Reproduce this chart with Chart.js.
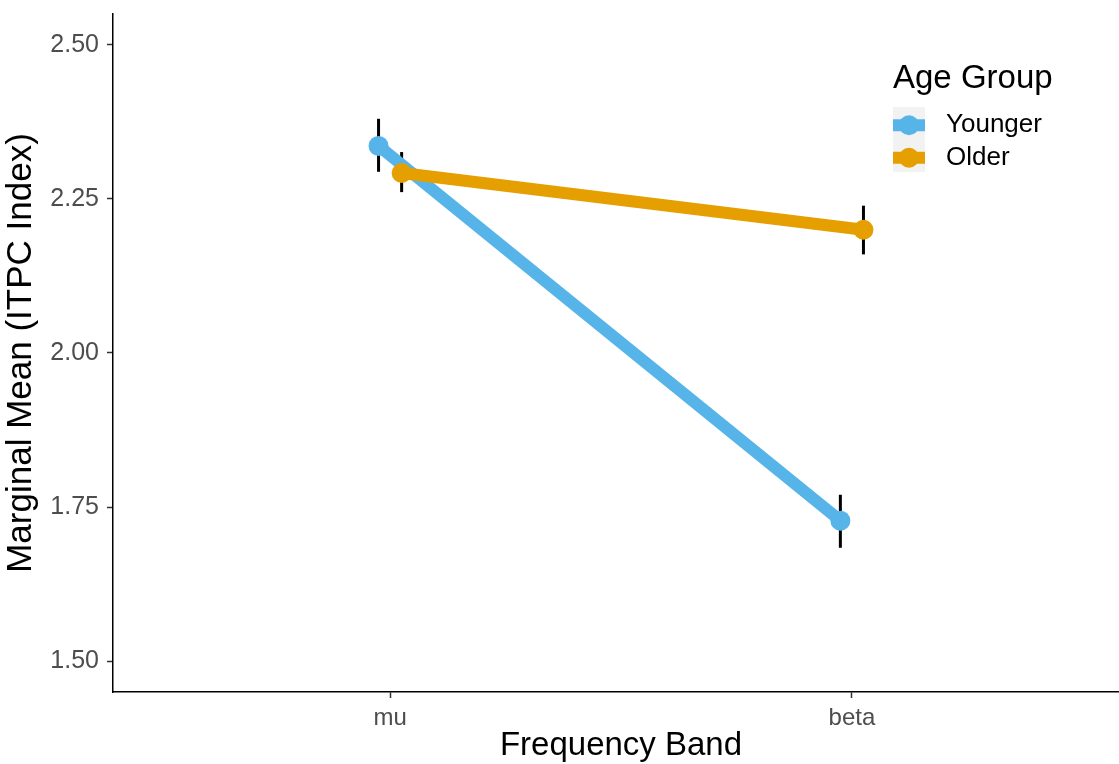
<!DOCTYPE html>
<html>
<head>
<meta charset="utf-8">
<script src="https://cdn.jsdelivr.net/npm/chart.js@4/dist/chart.umd.min.js"></script>
<style>
  html, body { margin: 0; padding: 0; background: #fff; overflow: hidden; }
  #wrap { width: 1119px; height: 764px; overflow: hidden; }
</style>
</head>
<body>
<!-- the panel runs a little past the right edge, so the canvas is wider than its box -->
<div id="wrap"><canvas id="myChart" width="1139" height="764"></canvas></div>
<script>
// frequency bands on the x axis, age groups as series
const bands = ['mu', 'beta'];
const groups = ['Younger', 'Older'];
const yTicks = [1.50, 1.75, 2.00, 2.25, 2.50];

// marginal means with lower / upper error bar ends
const youngerMean = [2.336, 1.728];
const youngerLow = [2.294, 1.684];
const youngerHigh = [2.380, 1.770];
const olderMean = [2.292, 2.200];
const olderLow = [2.261, 2.160];
const olderHigh = [2.326, 2.239];

const blue = '#56B4E9';
const orange = '#E69F00';
const dodge = 0.025;
const fontFamily = '"Liberation Sans", Arial, sans-serif';

function points(means, shift) {
    return means.map((m, i) => ({ x: i + 1 + shift, y: m }));
}

// fixed axis box size, no extra room for half labels
function fixBox(prop, size) {
    return scale => {
        scale[prop] = size;
        scale.paddingTop = 0;
        scale.paddingBottom = 0;
        scale.paddingLeft = 0;
        scale.paddingRight = 0;
    };
}

// black error bars behind the lines and points
const errorBars = {
    id: 'errorBars',
    beforeDatasetsDraw(chart) {
        const ctx = chart.ctx;
        const xs = chart.scales.x, ys = chart.scales.y;
        ctx.save();
        ctx.strokeStyle = '#000';
        ctx.lineWidth = 3;
        chart.data.datasets.forEach(ds => {
            ds.data.forEach((p, i) => {
                const px = xs.getPixelForValue(p.x);
                ctx.beginPath();
                ctx.moveTo(px, ys.getPixelForValue(ds.errLow[i]));
                ctx.lineTo(px, ys.getPixelForValue(ds.errHigh[i]));
                ctx.stroke();
            });
        });
        ctx.restore();
    }
};

// ggplot style legend inside the panel
const ageLegend = {
    id: 'ageLegend',
    afterDraw(chart) {
        const ctx = chart.ctx;
        const x0 = 893, top = 107, keyW = 32, keyH = 32.5;
        ctx.save();
        ctx.fillStyle = '#000';
        ctx.font = '33px ' + fontFamily;
        ctx.textBaseline = 'alphabetic';
        ctx.textAlign = 'left';
        ctx.fillText('Age Group', x0, 88);

        ctx.fillStyle = '#f2f2f2';
        ctx.fillRect(x0, top, keyW, keyH * groups.length);

        const cols = [blue, orange];
        groups.forEach((g, i) => {
            const cy = top + keyH * i + keyH / 2 + 2;
            ctx.strokeStyle = cols[i];
            ctx.lineWidth = 12;
            ctx.beginPath();
            ctx.moveTo(x0, cy);
            ctx.lineTo(x0 + keyW, cy);
            ctx.stroke();
            ctx.fillStyle = cols[i];
            ctx.beginPath();
            ctx.arc(x0 + keyW / 2, cy, 10, 0, Math.PI * 2);
            ctx.fill();
            ctx.fillStyle = '#000';
            ctx.font = '26px ' + fontFamily;
            ctx.textBaseline = 'middle';
            ctx.fillText(g, x0 + 53, cy);
        });
        ctx.restore();
    }
};

let chart1 = new Chart(document.getElementById('myChart').getContext('2d'), {
    type: 'line',
    data: {
        datasets: [{
            label: groups[0],
            data: points(youngerMean, -dodge),
            errLow: youngerLow,
            errHigh: youngerHigh,
            borderColor: blue,
            backgroundColor: blue,
            borderWidth: 12,
            pointRadius: 10,
            pointBorderWidth: 0,
            pointHoverRadius: 10,
            order: 1
        }, {
            label: groups[1],
            data: points(olderMean, dodge),
            errLow: olderLow,
            errHigh: olderHigh,
            borderColor: orange,
            backgroundColor: orange,
            borderWidth: 12,
            pointRadius: 10,
            pointBorderWidth: 0,
            pointHoverRadius: 10,
            order: 0
        }]
    },
    options: {
        responsive: false,
        animation: false,
        layout: { padding: { top: 14, left: 0, right: 0, bottom: 0 } },
        plugins: {
            legend: { display: false },
            tooltip: { enabled: false }
        },
        scales: {
            x: {
                type: 'linear',
                min: 0.4,
                max: 2.6,
                afterBuildTicks: axis => { axis.ticks = bands.map((b, i) => ({ value: i + 1 })); },
                afterFit: fixBox('height', 72),
                ticks: {
                    callback: v => bands[Math.round(v) - 1],
                    color: '#4d4d4d',
                    font: { family: fontFamily, size: 24 },
                    padding: 6,
                    maxRotation: 0
                },
                grid: { drawOnChartArea: false, tickLength: 6, tickColor: '#333', tickWidth: 1.5 },
                border: { color: '#000', width: 1.5 },
                title: {
                    display: true,
                    text: 'Frequency Band',
                    color: '#000',
                    font: { family: fontFamily, size: 33, lineHeight: 1.1 },
                    padding: { top: 0, bottom: 0 }
                }
            },
            y: {
                min: 1.45,
                max: 2.55,
                afterBuildTicks: axis => { axis.ticks = yTicks.map(v => ({ value: v })); },
                afterFit: fixBox('width', 113),
                ticks: {
                    callback: v => v.toFixed(2),
                    color: '#4d4d4d',
                    font: { family: fontFamily, size: 25 },
                    padding: 8
                },
                grid: { drawOnChartArea: false, tickLength: 6, tickColor: '#333', tickWidth: 1.5 },
                border: { color: '#000', width: 1.5 },
                title: {
                    display: true,
                    text: 'Marginal Mean (ITPC Index)',
                    color: '#000',
                    font: { family: fontFamily, size: 35 },
                    padding: { top: 0, bottom: 0 }
                }
            }
        }
    },
    plugins: [errorBars, ageLegend]
});
</script>
</body>
</html>
